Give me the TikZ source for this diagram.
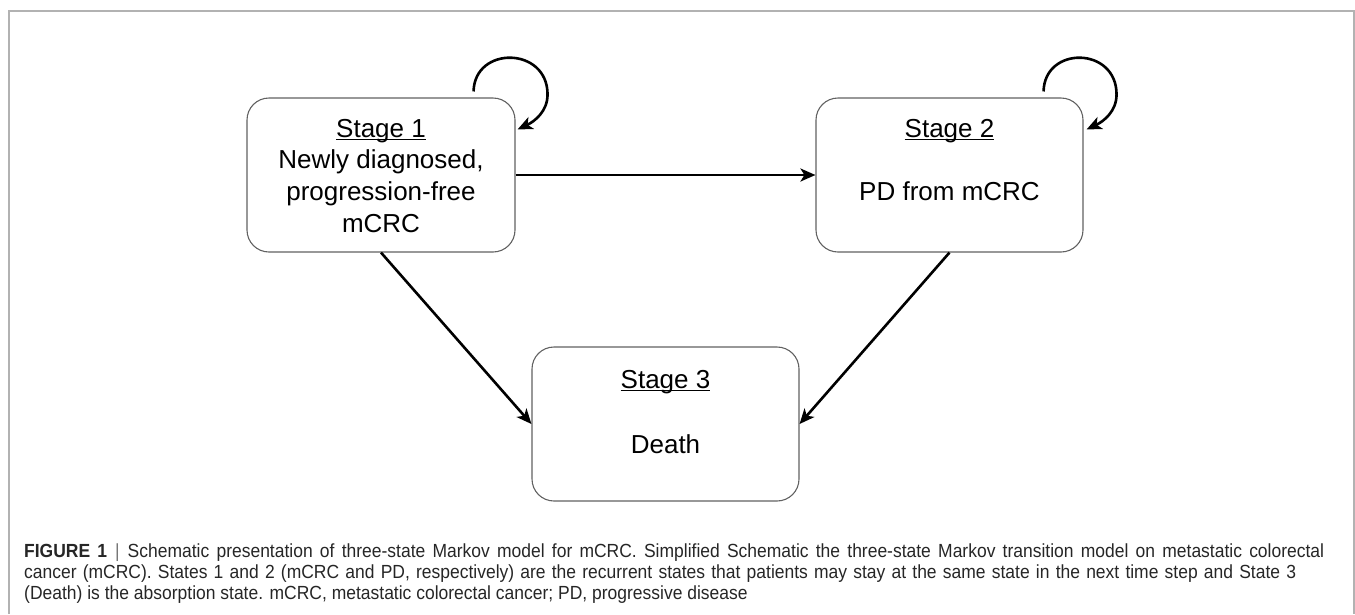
\documentclass[tikz,border=0pt]{standalone}
\usepackage{fontspec}
\setmainfont{Liberation Sans}
\newfontfamily\capfont[FakeStretch=0.92]{Liberation Sans}
\usetikzlibrary{arrows.meta,calc}
\newcommand\myul[1]{\setbox0\hbox{#1}\rlap{\rule[-3.2pt]{\wd0}{1.6pt}}\box0}
\begin{document}
\begin{tikzpicture}[x=1pt,y=-1pt,
  statebox/.style={draw=black!62, line width=1.1pt, rounded corners=22pt, minimum width=268pt, minimum height=154pt, inner sep=0pt},
  lbl/.style={anchor=base, inner sep=0pt, font=\fontsize{26}{32}\selectfont},
  conn/.style={line width=2.6pt, -{Stealth[length=15pt,width=13pt,inset=4pt]}},
  captext/.style={anchor=base west, inner sep=0pt, text=black!85, font=\capfont\fontsize{19}{21}\selectfont},
  outerframe/.style={draw=black!30, line width=1.4pt}]
\useasboundingbox (0,0) rectangle (1355,614);
\draw[outerframe] (9,614) -- (9,11) -- (1354,11) -- (1354,614);

\node[statebox] (s1) at (381,175) {};
\node[statebox, minimum width=267pt] (s2) at (949.5,175) {};
\node[statebox, minimum width=267pt] (s3) at (665.5,424) {};

\node[lbl] (t1a) at (381,137) {\myul{Stage 1}};
\node[lbl] (t1b) at (381,168) {Newly diagnosed,};
\node[lbl] (t1c) at (381,200) {progression-free};
\node[lbl] (t1d) at (381,232) {mCRC};
\node[lbl] (t2a) at (949.5,137) {\myul{Stage 2}};
\node[lbl] (t2b) at (949.5,200) {PD from mCRC};
\node[lbl] (t3a) at (665.5,388) {\myul{Stage 3}};
\node[lbl] (t3b) at (665.5,453) {Death};

\draw[conn] (s1.east) -- (s2.west);
\draw[conn] (s1.south) -- (s3.west);
\draw[conn] (s2.south) -- (s3.east);

\coordinate (l1s) at ($(s1.north east)+(-42,-6)$);
\coordinate (l1m) at ($(s1.north east)+(32,-3)$);
\coordinate (l1e) at ($(s1.north east)+(2,32)$);
\draw[conn] (l1s) .. controls +(1,-46) and +(0,-48) .. (l1m) .. controls +(0,17) and +(17,-8) .. (l1e);

\coordinate (l2s) at ($(s2.north east)+(-40,-6)$);
\coordinate (l2m) at ($(s2.north east)+(33,-3)$);
\coordinate (l2e) at ($(s2.north east)+(3,32)$);
\draw[conn] (l2s) .. controls +(1,-46) and +(0,-48) .. (l2m) .. controls +(0,17) and +(17,-8) .. (l2e);

\node[captext] (c1) at (24,557) {\hbox to 1300pt{\textbf{FIGURE 1}\hspace{8pt}\textcolor{black!55}{|}\hspace{8pt}Schematic presentation of three-state Markov model for mCRC. Simplified Schematic the three-state Markov transition model on metastatic colorectal}};
\node[captext] (c2) at (24,578) {\hbox to 1272pt{cancer (mCRC). States 1 and 2 (mCRC and PD, respectively) are the recurrent states that patients may stay at the same state in the next time step and State 3}};
\node[captext] (c3) at (24,599) {(Death) is the absorption state. mCRC, metastatic colorectal cancer; PD, progressive disease};
\end{tikzpicture}
\end{document}
